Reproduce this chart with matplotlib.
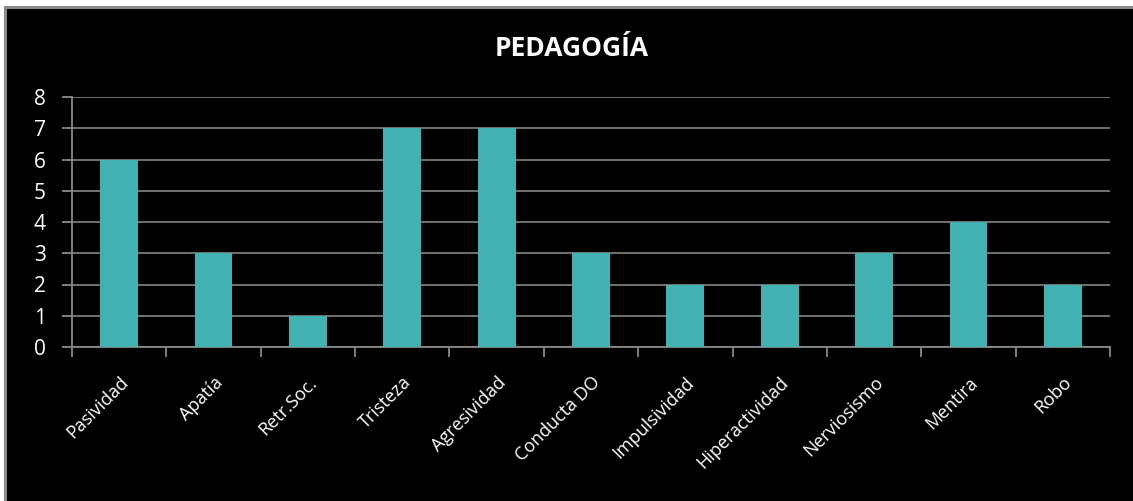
import matplotlib.pyplot as plt
import matplotlib.patches as patches
from matplotlib.ticker import FixedLocator
import numpy as np

categories = ['Pasividad', 'Apatía', 'Retr.Soc.', 'Tristeza', 'Agresividad',
              'Conducta DO', 'Impulsividad', 'Hiperactividad', 'Nerviosismo',
              'Mentira', 'Robo']
values = [6, 3, 1, 7, 7, 3, 2, 2, 3, 4, 2]
y_ticks = [0, 1, 2, 3, 4, 5, 6, 7, 8]

plt.rcParams['font.family'] = ['Open Sans', 'DejaVu Sans']

W, H = 1133, 501
fig = plt.figure(figsize=(W / 100, H / 100), dpi=100, facecolor='white')

# black chart area with grey frame, kept behind the axes
frame = patches.Rectangle((5 / W, -10 / H), 1.2, (H + 10 - 7) / H,
                          transform=fig.transFigure, facecolor='black',
                          edgecolor='#8a8a8a', linewidth=2.2, zorder=-5)
fig.patches.append(frame)

ax = fig.add_axes([72 / W, 1 - 347 / H, (1110 - 72) / W, 250 / H])
ax.set_zorder(2)
ax.set_facecolor('black')

x = np.arange(len(categories))
ax.bar(x, values, width=0.4, color='#41B1B2', zorder=3)

ax.set_xlim(-0.5, len(categories) - 0.5)
ax.set_ylim(0, 8)
ax.set_yticks(y_ticks)
ax.yaxis.grid(True, color='#7a7a7a', linewidth=1.3, zorder=1)
ax.set_axisbelow(True)

for side in ['top', 'right']:
    ax.spines[side].set_visible(False)
for side in ['left', 'bottom']:
    ax.spines[side].set_color('#8a8a8a')
    ax.spines[side].set_linewidth(1.3)

ax.tick_params(axis='y', colors='#8a8a8a', length=7, width=1.3, labelcolor='white',
               labelsize=15, pad=12)

# category labels at centres, tick marks between categories
ax.set_xticks(x)
ax.set_xticklabels(categories, rotation=45, ha='right', rotation_mode='anchor',
                   color='white', fontsize=13)
ax.tick_params(axis='x', which='major', length=0, pad=19)
ax.xaxis.set_minor_locator(FixedLocator(np.arange(-0.5, len(categories), 1.0)))
ax.tick_params(axis='x', which='minor', length=7, width=1.3, color='#8a8a8a')

fig.text(572 / W, 1 - 48 / H, 'PEDAGOGÍA', color='white', fontsize=19,
         fontweight='bold', ha='center', va='center')

fig.savefig('out.png', dpi=100, facecolor='white')
